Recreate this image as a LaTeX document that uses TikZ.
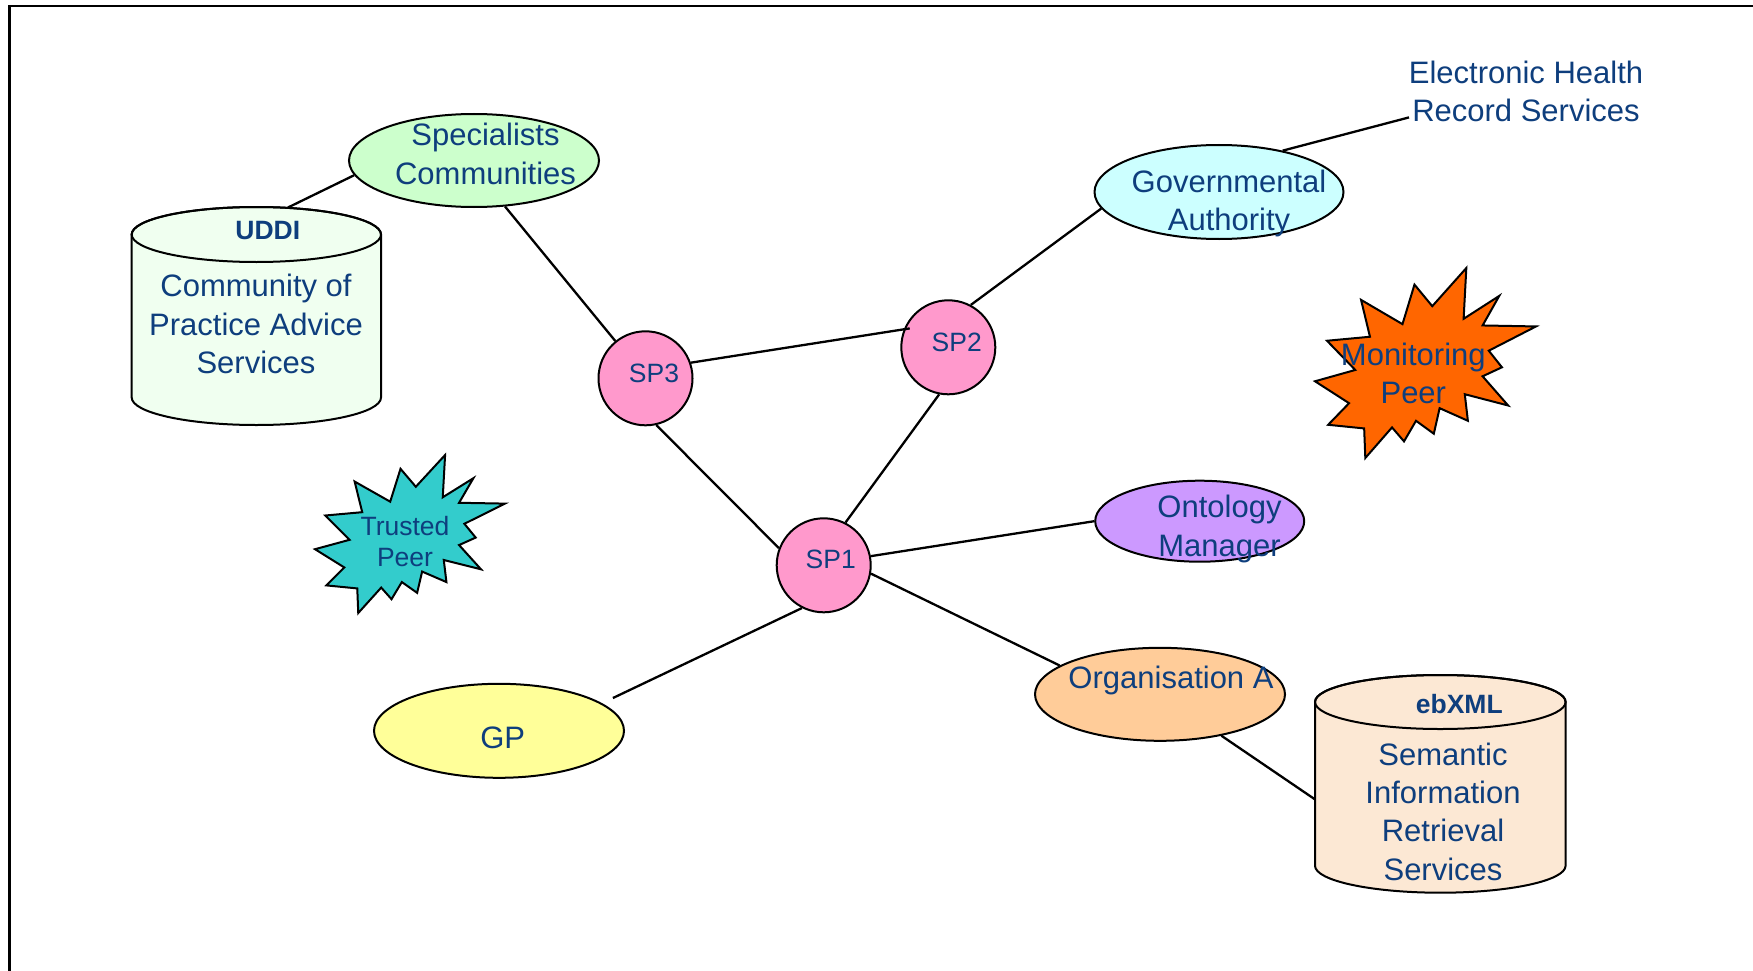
\documentclass[tikz,border=0pt]{standalone}
\usepackage{fontspec}
\setmainfont{Liberation Sans}
\usetikzlibrary{shapes.geometric}

\definecolor{ink}{RGB}{14,62,125}
\definecolor{spink}{RGB}{255,153,204}
\definecolor{specfill}{RGB}{204,255,204}
\definecolor{govfill}{RGB}{204,255,255}
\definecolor{ontfill}{RGB}{204,153,255}
\definecolor{orgfill}{RGB}{255,204,153}
\definecolor{gpfill}{RGB}{255,255,153}
\definecolor{trustfill}{RGB}{51,204,204}
\definecolor{monfill}{RGB}{255,102,0}
\definecolor{uddifill}{RGB}{240,255,240}
\definecolor{ebxmlfill}{RGB}{252,232,212}

\tikzset{
  outline/.style={draw=black, line width=2pt},
  link/.style={draw=black, line width=2.3pt},
  frameline/.style={draw=black, line width=2.2pt},
  oval/.style={ellipse, outline, inner sep=0pt, minimum width=250pt, minimum height=93pt},
  spnode/.style={circle, outline, fill=spink, inner sep=0pt, minimum size=94pt},
  % multi-line labels are placed by the baseline of their last line
  bigtxt/.style={text=ink, align=center, anchor=base, inner sep=0pt,
    font=\fontsize{31}{38.4}\selectfont},
  smalltxt/.style={text=ink, align=center, anchor=base, inner sep=0pt,
    font=\fontsize{26.5}{31.7}\selectfont},
  boldtxt/.style={text=ink, anchor=base, inner sep=0pt,
    font=\fontsize{26.5}{31.7}\selectfont\bfseries},
  % irregular explosion outline, drawn in a 216 x 216 box
  burst/.pic={
    \path[pic actions] (114.62,43.42) -- (147.90,0) -- (145.25,57.77) -- (180.07,31.72)
      -- (163.80,65.32) -- (216,66.45) -- (169.85,94.02) -- (182.70,112.90)
      -- (163.80,123.10) -- (188.77,156.32) -- (146.40,143.50) -- (149.42,173.70)
      -- (121.80,159.35) -- (116.12,188.42) -- (98.72,173.70) -- (87.00,197.12)
      -- (75.27,181.25) -- (49.17,216) -- (48.05,182.40) -- (12.85,178.25)
      -- (33.30,153.70) -- (0,128.77) -- (39.35,115.92) -- (11.72,82.70)
      -- (53.72,78.17) -- (45.02,36.25) -- (85.50,63.82) -- (97.22,18.87) -- cycle;
  }
}

\begin{document}
\begin{tikzpicture}[x=1pt,y=-1pt]
  \fill[white] (0,0) rectangle (1753,971);
  \useasboundingbox (0,0) rectangle (1753,971);

  % page frame
  \draw[frameline] (9.5,971) -- (9.5,5.7) -- (1753,5.7);

  % UDDI registry cylinder
  \path[outline, fill=uddifill] (131.7,234.5) -- (131.7,397.5)
    arc[start angle=180, end angle=360, x radius=124.65pt, y radius=27.5pt]
    -- (381,234.5)
    arc[start angle=0, end angle=180, x radius=124.65pt, y radius=27.5pt] -- cycle;
  \draw[outline] (256.35,234.5) ellipse[x radius=124.65pt, y radius=27.5pt];
  \coordinate (uddi-in) at (288,207.5);

  % ebXML registry cylinder
  \path[outline, fill=ebxmlfill] (1315,702) -- (1315,865.7)
    arc[start angle=180, end angle=360, x radius=125.3pt, y radius=27pt]
    -- (1565.6,702)
    arc[start angle=0, end angle=180, x radius=125.3pt, y radius=27pt] -- cycle;
  \draw[outline] (1440.3,702) ellipse[x radius=125.3pt, y radius=27pt];
  \coordinate (ebxml-in) at (1315,799.4);

  % peers
  \pic[outline, fill=trustfill, xscale=0.8796, yscale=0.7315] at (315,455) {burst};
  \pic[outline, fill=monfill, xscale=1.0231, yscale=0.8796] at (1315,268) {burst};

  % community nodes
  \node[oval, fill=specfill] (spec) at (474,160.5) {};
  \node[oval, fill=govfill, minimum width=249pt, minimum height=94pt] (gov) at (1219,192) {};
  \node[oval, fill=ontfill, minimum width=209pt, minimum height=81pt] (onto) at (1199.7,521.2) {};
  \node[oval, fill=orgfill] (org) at (1160,694.3) {};
  \node[oval, fill=gpfill, minimum height=94pt] (gp) at (499,730.8) {};

  % super peers
  \node[spnode] (sp3) at (645.5,378.3) {};
  \node[spnode] (sp2) at (948.3,347.3) {};
  \node[spnode] (sp1) at (823.7,565.3) {};

  \coordinate (ehr-in) at (1409,117.4);

  % connections
  \draw[link] (spec.187) -- (uddi-in);
  \draw[link] (spec.-56) -- (sp3.129);
  \draw[link, shorten >=-6pt] (sp3.19) -- (sp2.158);
  \draw[link] (sp3.-77) -- (sp1.159);
  \draw[link] (sp2.-101) -- (sp1.63);
  \draw[link] (sp2.62) -- (gov.188);
  \draw[link] (gov.33) -- (ehr-in);
  \draw[link] (sp1.11) -- (onto.180);
  \draw[link] (sp1.-10) -- (org.164);
  \draw[link, shorten >=12pt] (sp1.-117) -- (gp.15);
  \draw[link] (org.-34) -- (ebxml-in);

  % labels
  \node[bigtxt] (spec-t) at (485.5,184.4) {Specialists\\Communities};
  \node[boldtxt] (uddi-t) at (267.8,239.5) {UDDI};
  \node[bigtxt] (uddi-body) at (256,373.5) {Community of\\Practice Advice\\Services};
  \node[bigtxt] (gov-t) at (1229,230.4) {Governmental\\Authority};
  \node[bigtxt] (ehr) at (1526,121.7) {Electronic Health\\Record Services};
  \node[smalltxt] (sp3-t) at (654,382) {SP3};
  \node[smalltxt] (sp2-t) at (956.7,351) {SP2};
  \node[smalltxt] (sp1-t) at (830.7,568.7) {SP1};
  \node[bigtxt] (mon-t) at (1413.3,403.4) {Monitoring\\Peer};
  \node[smalltxt] (trust-t) at (405,566.7) {Trusted\\Peer};
  \node[bigtxt, font=\fontsize{31}{39.4}\selectfont] (onto-t) at (1219.5,556.7) {Ontology\\Manager};
  \node[bigtxt] (org-t) at (1171,688.3) {Organisation A};
  \node[bigtxt] (gp-t) at (502.7,748.3) {GP};
  \node[boldtxt] (ebxml-t) at (1459.3,713.3) {ebXML};
  \node[bigtxt] (ebxml-body) at (1443,880.2) {Semantic\\Information\\Retrieval\\Services};
\end{tikzpicture}
\end{document}
